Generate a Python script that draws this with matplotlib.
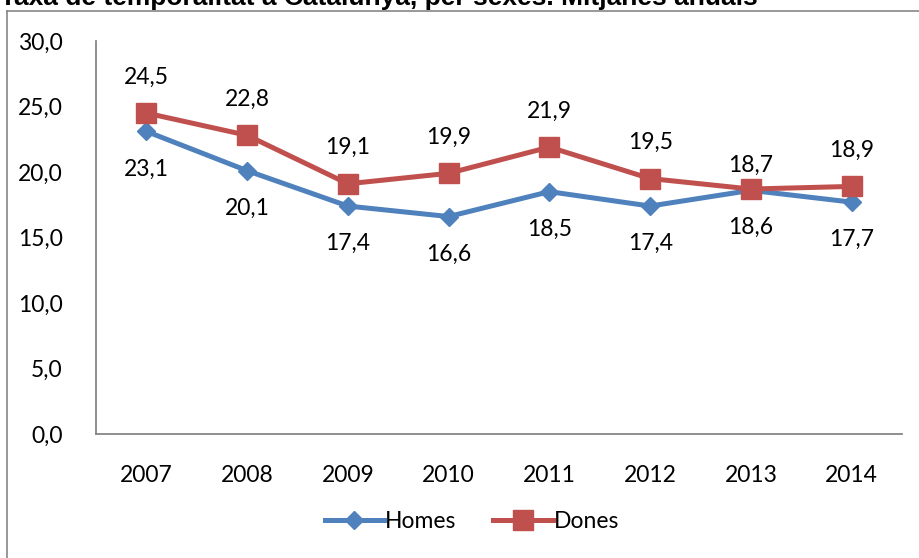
import matplotlib.pyplot as plt
from matplotlib.lines import Line2D

# Data
years = ['2007', '2008', '2009', '2010', '2011', '2012', '2013', '2014']
homes = [23.1, 20.1, 17.4, 16.6, 18.5, 17.4, 18.6, 17.7]
dones = [24.5, 22.8, 19.1, 19.9, 21.9, 19.5, 18.7, 18.9]
yticks = [0, 5, 10, 15, 20, 25, 30]

title = 'Taxa de temporalitat a Catalunya, per sexes. Mitjanes anuals'
blue = '#4F81BD'
red = '#C0504D'
font = 'Lato'

W, H = 920, 558
fig = plt.figure(figsize=(W / 100, H / 100), dpi=100)

# chart frame (runs off the right and bottom edges)
fig.add_artist(Line2D([7 / W, 1], [1 - 11 / H, 1 - 11 / H], color='#868686', lw=1.2))
fig.add_artist(Line2D([7 / W, 7 / W], [0, 1 - 11 / H], color='#868686', lw=1.2))

# title, partly cut off at the top like in the original
fig.text(0 / W, 1 - 5 / H, title, fontsize=19, fontweight='bold',
         family='Liberation Sans', va='baseline', ha='left')

ax = fig.add_axes([96 / W, 1 - 434 / H, (902 - 96) / W, (434 - 41) / H])
x = list(range(len(years)))
ax.plot(x, homes, color=blue, lw=3.6, marker='D', ms=9.5, label='Homes')
ax.plot(x, dones, color=red, lw=3.6, marker='s', ms=14, label='Dones')

ax.set_xlim(-0.5, len(years) - 0.5)
ax.set_ylim(0, 30)
ax.set_yticks(yticks)
ax.set_yticklabels(['{:.1f}'.format(v).replace('.', ',') for v in yticks])
ax.set_xticks(x)
ax.set_xticklabels(years)
ax.tick_params(length=0, labelsize=16.5)
for lab in ax.get_xticklabels() + ax.get_yticklabels():
    lab.set_family(font)
ax.tick_params(axis='y', pad=24)
ax.tick_params(axis='x', pad=22)

for s in ['top', 'right']:
    ax.spines[s].set_visible(False)
for s in ['left', 'bottom']:
    ax.spines[s].set_color('#868686')
    ax.spines[s].set_linewidth(1.3)

# data labels: women above, men below
for i in x:
    up = 17 if years[i] == '2013' else 26
    ax.annotate('{:.1f}'.format(dones[i]).replace('.', ','), (i, dones[i]),
                xytext=(0, up), textcoords='offset points', ha='center', va='center',
                fontsize=16.5, family=font)
    ax.annotate('{:.1f}'.format(homes[i]).replace('.', ','), (i, homes[i]),
                xytext=(0, -27), textcoords='offset points', ha='center', va='center',
                fontsize=16.5, family=font)

leg = fig.legend(loc='center', bbox_to_anchor=(472 / W, 1 - 522 / H), ncol=2,
                 frameon=False, handlelength=2.6, handletextpad=0.05,
                 columnspacing=1.6, prop={'family': font, 'size': 16.5})

fig.savefig('out.png', dpi=100)
